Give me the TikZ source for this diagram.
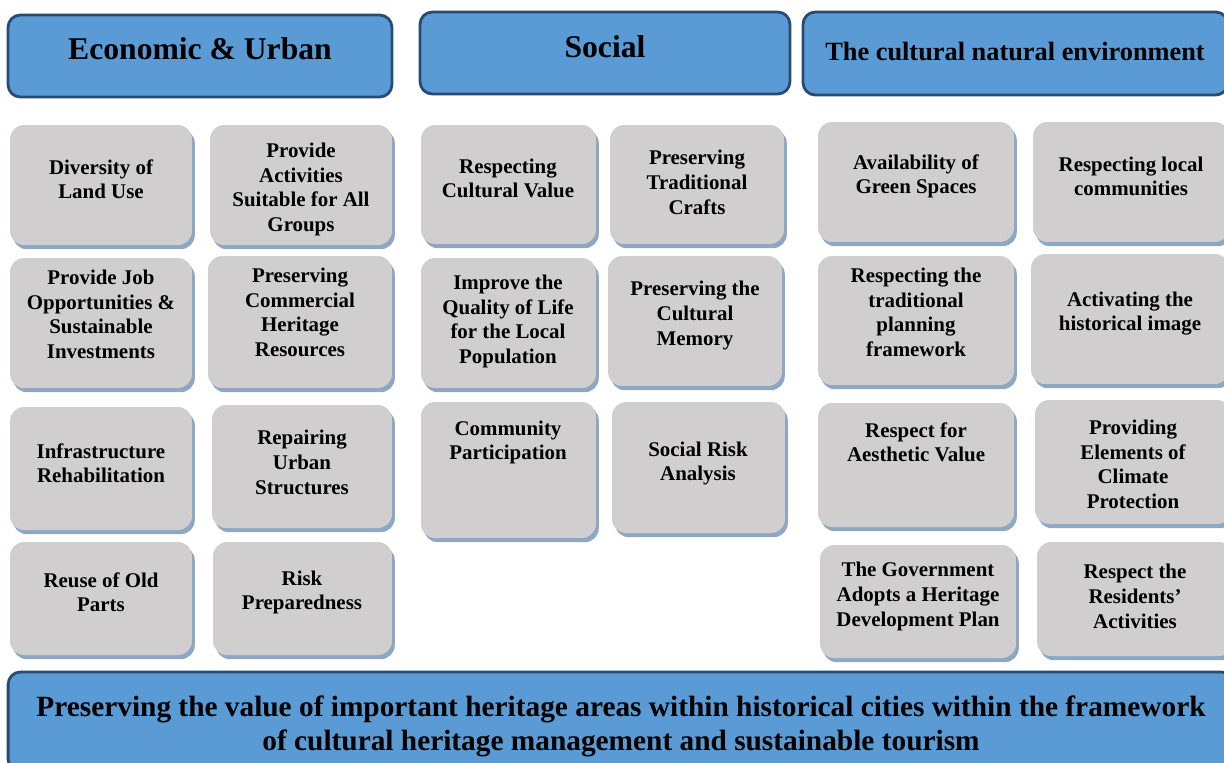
\documentclass[tikz,border=0pt]{standalone}
\usepackage{fontspec}
\setmainfont{Liberation Serif}
\usetikzlibrary{shadows}
\definecolor{headblue}{RGB}{91,155,213}
\definecolor{headline}{RGB}{38,76,116}
\definecolor{cardgray}{RGB}{208,206,207}
\definecolor{cardshadow}{RGB}{142,168,195}

\begin{document}
\begin{tikzpicture}[
  x=0.02cm, y=-0.02cm,
  head/.style={draw=headline, line width=1.6pt, fill=headblue, rounded corners=7pt, inner sep=0pt},
  card/.style={fill=cardgray, rounded corners=8pt, inner sep=0pt,
    drop shadow={shadow xshift=1.6pt, shadow yshift=-2.4pt, fill=cardshadow, opacity=1}},
  cardtext/.style={font=\bfseries\fontsize{11.9}{14}\selectfont, align=center, inner sep=0pt, yshift=-0.8pt},
  headtext/.style={font=\bfseries\fontsize{18}{22}\selectfont, inner sep=0pt}
]
  \useasboundingbox (0,0) rectangle (1224,762);

  % headers
  \node[head, minimum width=7.68cm, minimum height=1.64cm] (econ) at (200,56) {};
  \node[headtext] (econ-t) at (200,49) {Economic \& Urban};
  \node[head, minimum width=7.4cm, minimum height=1.64cm] (social) at (605,53) {};
  \node[headtext] (social-t) at (605,47) {Social};
  \node[head, minimum width=8.5cm, minimum height=1.66cm] (nature) at (1015.5,53.5) {};
  \node[headtext, font=\bfseries\fontsize{15}{18}\selectfont] (nature-t) at (1015,52) {The cultural natural environment};

  % economic & urban
  \node[card, minimum width=3.64cm, minimum height=2.4cm] (diversity) at (101,185) {};
  \node[cardtext] (diversity-t) at (101,178) {Diversity of\\Land Use};
  \node[card, minimum width=3.64cm, minimum height=2.4cm] (activities) at (301,185) {};
  \node[cardtext] (activities-t) at (301,188) {Provide\\Activities\\Suitable for All\\Groups};
  \node[card, minimum width=3.64cm, minimum height=2.6cm] (jobs) at (101,323) {};
  \node[cardtext] (jobs-t) at (101,313) {Provide Job\\Opportunities \&\\Sustainable\\Investments};
  \node[card, minimum width=3.68cm, minimum height=2.64cm] (commercial) at (300,322) {};
  \node[cardtext] (commercial-t) at (300,311) {Preserving\\Commercial\\Heritage\\Resources};
  \node[card, minimum width=3.64cm, minimum height=2.46cm] (infra) at (101,468.5) {};
  \node[cardtext] (infra-t) at (101,462) {Infrastructure\\Rehabilitation};
  \node[card, minimum width=3.6cm, minimum height=2.46cm] (repair) at (302,466.5) {};
  \node[cardtext] (repair-t) at (302,461) {Repairing\\Urban\\Structures};
  \node[card, minimum width=3.64cm, minimum height=2.26cm] (reuse) at (101,598.5) {};
  \node[cardtext] (reuse-t) at (101,591) {Reuse of Old\\Parts};
  \node[card, minimum width=3.58cm, minimum height=2.26cm] (risk) at (302.5,598.5) {};
  \node[cardtext] (risk-t) at (302,591) {Risk\\Preparedness};

  % social
  \node[card, minimum width=3.5cm, minimum height=2.38cm] (value) at (508.5,184.5) {};
  \node[cardtext] (value-t) at (508,177) {Respecting\\Cultural Value};
  \node[card, minimum width=3.48cm, minimum height=2.38cm] (crafts) at (697,184.5) {};
  \node[cardtext] (crafts-t) at (697,181) {Preserving\\Traditional\\Crafts};
  \node[card, minimum width=3.5cm, minimum height=2.6cm] (quality) at (508.5,323) {};
  \node[cardtext] (quality-t) at (508,320) {Improve the\\Quality of Life\\for the Local\\Population};
  \node[card, minimum width=3.48cm, minimum height=2.6cm] (memory) at (695,321) {};
  \node[cardtext] (memory-t) at (695,314) {Preserving the\\Cultural\\Memory};
  \node[card, minimum width=3.5cm, minimum height=2.72cm] (participation) at (508.5,470) {};
  \node[cardtext] (participation-t) at (508,441) {Community\\Participation};
  \node[card, minimum width=3.46cm, minimum height=2.62cm] (socialrisk) at (698.5,467.5) {};
  \node[cardtext] (socialrisk-t) at (698,462) {Social Risk\\Analysis};

  % cultural natural environment
  \node[card, minimum width=3.92cm, minimum height=2.4cm] (green) at (916,182) {};
  \node[cardtext] (green-t) at (916,175) {Availability of\\Green Spaces};
  \node[card, minimum width=3.92cm, minimum height=2.4cm] (communities) at (1131,182) {};
  \node[cardtext] (communities-t) at (1131,175) {Respecting local\\communities};
  \node[card, minimum width=3.92cm, minimum height=2.58cm] (planning) at (916,320.5) {};
  \node[cardtext] (planning-t) at (916,311) {Respecting the\\traditional\\planning\\framework};
  \node[card, minimum width=3.96cm, minimum height=2.6cm] (image) at (1130,319) {};
  \node[cardtext] (image-t) at (1130,312) {Activating the\\historical image};
  \node[card, minimum width=3.92cm, minimum height=2.48cm] (aesthetic) at (916,465) {};
  \node[cardtext] (aesthetic-t) at (916,441) {Respect for\\Aesthetic Value};
  \node[card, minimum width=3.92cm, minimum height=2.48cm] (climate) at (1133,462) {};
  \node[cardtext] (climate-t) at (1133,463) {Providing\\Elements of\\Climate\\Protection};
  \node[card, minimum width=3.92cm, minimum height=2.26cm] (government) at (918,601.5) {};
  \node[cardtext] (government-t) at (918,595) {The Government\\Adopts a Heritage\\Development Plan};
  \node[card, minimum width=3.92cm, minimum height=2.28cm] (residents) at (1135,599) {};
  \node[cardtext] (residents-t) at (1135,595) {Respect the\\Residents’\\Activities};

  % goal banner
  \node[head, minimum width=24.52cm, minimum height=2cm] (goal) at (621,722) {};
  \node[cardtext, font=\bfseries\fontsize{16.7}{19.8}\selectfont] (goal-t) at (621,725)
    {Preserving the value of important heritage areas within historical cities within the framework\\of cultural heritage management and sustainable tourism};
\end{tikzpicture}
\end{document}
